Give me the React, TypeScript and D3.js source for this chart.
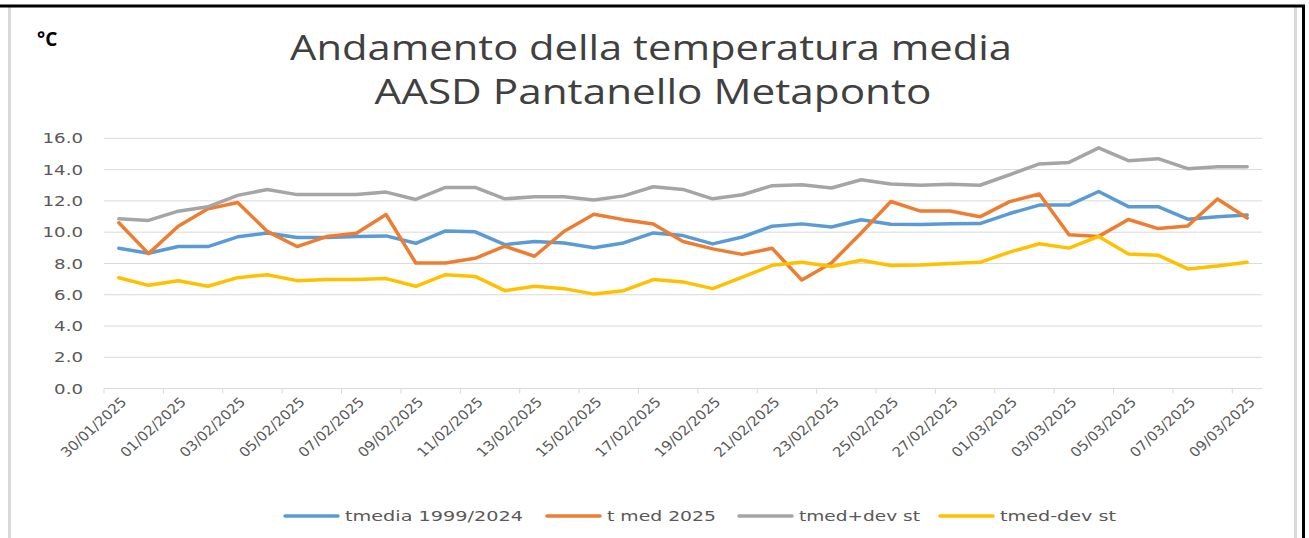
import React from "react";
import * as d3 from "d3";

const dates = [
  "30/01/2025","31/01/2025","01/02/2025","02/02/2025","03/02/2025","04/02/2025","05/02/2025",
  "06/02/2025","07/02/2025","08/02/2025","09/02/2025","10/02/2025","11/02/2025","12/02/2025",
  "13/02/2025","14/02/2025","15/02/2025","16/02/2025","17/02/2025","18/02/2025","19/02/2025",
  "20/02/2025","21/02/2025","22/02/2025","23/02/2025","24/02/2025","25/02/2025","26/02/2025",
  "27/02/2025","28/02/2025","01/03/2025","02/03/2025","03/03/2025","04/03/2025","05/03/2025",
  "06/03/2025","07/03/2025","08/03/2025","09/03/2025",
];

const tmedia = [8.97, 8.65, 9.08, 9.08, 9.7, 9.95, 9.66, 9.66, 9.72, 9.76, 9.29, 10.08, 10.02, 9.2, 9.4, 9.31, 9.01, 9.31, 9.95, 9.78, 9.25, 9.69, 10.38, 10.53, 10.33, 10.79, 10.51, 10.49, 10.53, 10.55, 11.19, 11.73, 11.73, 12.6, 11.63, 11.63, 10.83, 10.98, 11.1];
const tmed2025 = [10.6, 8.63, 10.38, 11.49, 11.9, 10.05, 9.08, 9.72, 9.93, 11.13, 8.03, 8.03, 8.33, 9.1, 8.46, 10.06, 11.15, 10.8, 10.52, 9.4, 8.93, 8.58, 8.97, 6.94, 8.03, 9.95, 11.96, 11.35, 11.35, 10.98, 11.95, 12.44, 9.84, 9.73, 10.81, 10.23, 10.4, 12.12, 10.9];
const tmedPlus = [10.85, 10.75, 11.34, 11.62, 12.35, 12.73, 12.4, 12.4, 12.4, 12.56, 12.09, 12.86, 12.86, 12.13, 12.26, 12.26, 12.06, 12.32, 12.9, 12.73, 12.13, 12.39, 12.97, 13.03, 12.82, 13.35, 13.08, 13.0, 13.07, 13.0, 13.67, 14.36, 14.46, 15.39, 14.57, 14.7, 14.06, 14.18, 14.18];
const tmedMinus = [7.09, 6.6, 6.9, 6.54, 7.09, 7.28, 6.9, 6.97, 6.97, 7.03, 6.54, 7.28, 7.17, 6.26, 6.54, 6.39, 6.04, 6.26, 6.97, 6.82, 6.39, 7.12, 7.88, 8.07, 7.81, 8.2, 7.87, 7.9, 8.0, 8.07, 8.72, 9.26, 8.98, 9.73, 8.61, 8.53, 7.65, 7.84, 8.07];

const seriesNames = ["tmedia 1999/2024", "t med 2025", "tmed+dev st", "tmed-dev st"];
const seriesColors = ["#5B9BD5", "#ED7D31", "#A5A5A5", "#FFC000"];
const seriesValues = [tmedia, tmed2025, tmedPlus, tmedMinus];
const yTicks = [0, 2, 4, 6, 8, 10, 12, 14, 16];

const W = 1309;
const H = 538;
const plot = { left: 104, right: 1262, top: 138.3, bottom: 388.6 };
const legendLayout = [
  { x: 285, tw: 178 },
  { x: 547, tw: 109 },
  { x: 739, tw: 121 },
  { x: 940, tw: 116 },
];

export default function App() {
  const x = d3.scalePoint<string>().domain(dates).range([plot.left, plot.right]).padding(0.5);
  const step = x.step();
  const y = d3.scaleLinear().domain([0, 16]).range([plot.bottom, plot.top]);
  const line = d3
    .line<number>()
    .x((_, i) => x(dates[i]) as number)
    .y((d) => y(d));

  const tickBoundaries = dates
    .map((_, i) => i)
    .filter((i) => i % 2 === 0)
    .map((i) => plot.left + i * step);

  const font = "'DejaVu Sans', sans-serif";

  return (
    <svg
      width={W}
      height={H}
      style={{ position: "absolute", left: 0, top: 0, background: "#fff" }}
    >
      <rect x={0} y={0} width={W} height={H} fill="#fff" />
      {/* frame */}
      <line x1={9.5} x2={9.5} y1={7} y2={H} stroke="#d9d9d9" strokeWidth={3} />
      <line x1={1295.5} x2={1295.5} y1={7} y2={H} stroke="#d9d9d9" strokeWidth={3} />
      <line x1={0} x2={1305} y1={6} y2={6} stroke="#000" strokeWidth={3} />
      <line x1={1303.5} x2={1303.5} y1={5} y2={H} stroke="#000" strokeWidth={3} />

      {/* unit */}
      <text x={37} y={46} fontFamily="'Open Sans', sans-serif" fontWeight="bold" fontSize={19} fill="#000">
        °C
      </text>

      {/* title */}
      <text
        x={651}
        y={60}
        textAnchor="middle"
        fontFamily="'Open Sans', sans-serif"
        fontSize={35}
        fill="#404040"
        textLength={722}
        lengthAdjust="spacingAndGlyphs"
      >
        Andamento della temperatura media
      </text>
      <text
        x={653}
        y={104}
        textAnchor="middle"
        fontFamily="'Open Sans', sans-serif"
        fontSize={35}
        fill="#404040"
        textLength={557}
        lengthAdjust="spacingAndGlyphs"
      >
        AASD Pantanello Metaponto
      </text>

      {/* grid */}
      {yTicks.map((t) => (
        <g key={t}>
          <line x1={plot.left} x2={plot.right} y1={y(t)} y2={y(t)} stroke="#d9d9d9" strokeWidth={1} />
          <text
            transform={`translate(83,${y(t)}) scale(1.3,1)`}
            textAnchor="end"
            dy="0.36em"
            fontFamily={font}
            fontSize={14}
            fill="#595959"
          >
            {t.toFixed(1)}
          </text>
        </g>
      ))}

      {/* x tick marks */}
      {tickBoundaries.map((bx, i) => (
        <line key={i} x1={bx} x2={bx} y1={plot.bottom} y2={plot.bottom + 5} stroke="#d9d9d9" strokeWidth={1} />
      ))}

      {/* x labels */}
      {dates.map((d, i) =>
        i % 2 === 0 ? (
          <text
            key={d}
            transform={`translate(${(x(d) as number) + 5},${plot.bottom + 11}) scale(1.1,1) rotate(-45)`}
            textAnchor="end"
            dy="0.35em"
            fontFamily={font}
            fontSize={13.5}
            fill="#595959"
          >
            {d}
          </text>
        ) : null
      )}

      {/* series */}
      {seriesValues.map((vals, si) => (
        <path
          key={si}
          d={line(vals) as string}
          fill="none"
          stroke={seriesColors[si]}
          strokeWidth={3.5}
          strokeLinejoin="round"
          strokeLinecap="round"
        />
      ))}

      {/* legend */}
      {legendLayout.map((l, i) => (
        <g key={i}>
          <line x1={l.x} x2={l.x + 53} y1={516} y2={516} stroke={seriesColors[i]} strokeWidth={3.5} strokeLinecap="round" />
          <text
            x={l.x + 60}
            y={516}
            dy="0.36em"
            fontFamily={font}
            fontSize={14.5}
            fill="#595959"
            textLength={l.tw}
            lengthAdjust="spacingAndGlyphs"
          >
            {seriesNames[i]}
          </text>
        </g>
      ))}
    </svg>
  );
}
